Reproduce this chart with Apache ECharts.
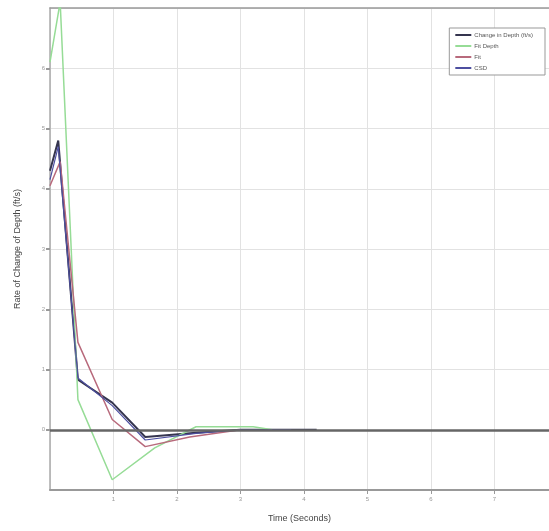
<!DOCTYPE html>
<html>
<head>
<meta charset="utf-8">
<script src="https://cdn.jsdelivr.net/npm/echarts@6/dist/echarts.min.js"></script>
<style>
  html, body { margin: 0; padding: 0; background: #fff; }
  #chart { width: 549px; height: 531px; }
</style>
</head>
<body>
<div id="chart"></div>
<script>
// series names (legend)
var seriesNames = ['Change in Depth (ft/s)', 'Fit Depth', 'Fit', 'CSD'];

// [time, rate] pairs
var depthData = [[0, 4.3], [0.13, 4.8], [0.44, 0.83], [0.98, 0.45], [1.5, -0.12], [2.3, -0.05], [3.0, 0], [4.2, 0]];
var fitDepthData = [[0, 6.1], [0.16, 7.1], [0.44, 0.5], [0.98, -0.83], [1.65, -0.3], [2.3, 0.05], [3.2, 0.05], [3.5, 0]];
var fitData = [[0, 4.05], [0.16, 4.45], [0.44, 1.45], [0.98, 0.17], [1.5, -0.28], [2.2, -0.12], [3.0, 0]];
var csdData = [[0, 4.15], [0.13, 4.7], [0.44, 0.86], [0.98, 0.4], [1.5, -0.17], [2.3, -0.06], [3.0, 0], [3.8, 0]];

var colors = ['#35354f', '#96dc96', '#b86a7c', '#4d4fa0'];

var chart = echarts.init(document.getElementById('chart'));

function lineSeries(name, data, color, width) {
  return {
    name: name,
    type: 'line',
    data: data,
    symbol: 'none',
    lineStyle: { color: color, width: width },
    itemStyle: { color: color },
    z: 3
  };
}

var option = {
  animation: false,
  color: colors,
  grid: { left: 50, right: 0, top: 8, bottom: 41 },
  legend: {
    orient: 'vertical',
    right: 4,
    top: 28,
    itemWidth: 16,
    itemHeight: 2,
    itemGap: 5,
    padding: [4, 12, 4, 6],
    backgroundColor: '#fff',
    borderColor: '#999',
    borderWidth: 1,
    icon: 'rect',
    textStyle: { fontSize: 6, color: '#555', padding: [0, 0, 0, -2] },
    data: seriesNames
  },
  xAxis: [{
    type: 'value',
    min: 0,
    max: 7.86,
    interval: 1,
    name: 'Time (Seconds)',
    nameLocation: 'middle',
    nameGap: 24,
    nameTextStyle: { fontSize: 9, color: '#444' },
    axisLine: { show: true, onZero: false, lineStyle: { color: '#999', width: 2 } },
    axisTick: { show: true, length: 4, lineStyle: { color: '#999' } },
    axisLabel: { fontSize: 6, color: '#999', margin: 6, showMinLabel: false, showMaxLabel: false },
    splitLine: { show: true, lineStyle: { color: '#e2e2e2', width: 1 } }
  }, {
    type: 'value',
    position: 'top',
    min: 0,
    max: 7.86,
    interval: 1,
    axisLine: { show: true, onZero: false, lineStyle: { color: '#999', width: 1.5 } },
    axisTick: { show: false },
    axisLabel: { show: false },
    splitLine: { show: false }
  }],
  yAxis: {
    type: 'value',
    min: -1,
    max: 7,
    interval: 1,
    name: 'Rate of Change of Depth (ft/s)',
    nameLocation: 'middle',
    nameGap: 28,
    nameTextStyle: { fontSize: 9, color: '#444' },
    axisLine: { show: true, onZero: false, lineStyle: { color: '#aaa', width: 1.5 } },
    axisTick: { show: true, length: 4, lineStyle: { color: '#999', width: 2 } },
    axisLabel: { fontSize: 6, color: '#999', margin: 5, showMinLabel: false, showMaxLabel: false },
    splitLine: { show: true, lineStyle: { color: '#e2e2e2', width: 1 } }
  },
  series: [
    lineSeries(seriesNames[0], depthData, colors[0], 2),
    lineSeries(seriesNames[1], fitDepthData, colors[1], 1.5),
    lineSeries(seriesNames[2], fitData, colors[2], 1.5),
    lineSeries(seriesNames[3], csdData, colors[3], 1.2),
    {
      name: 'zero',
      type: 'line',
      data: [],
      markLine: {
        silent: true,
        symbol: 'none',
        label: { show: false },
        lineStyle: { color: '#666', width: 2.5, type: 'solid' },
        data: [{ yAxis: 0 }]
      },
      z: 2
    }
  ]
};

chart.setOption(option);
</script>
</body>
</html>
